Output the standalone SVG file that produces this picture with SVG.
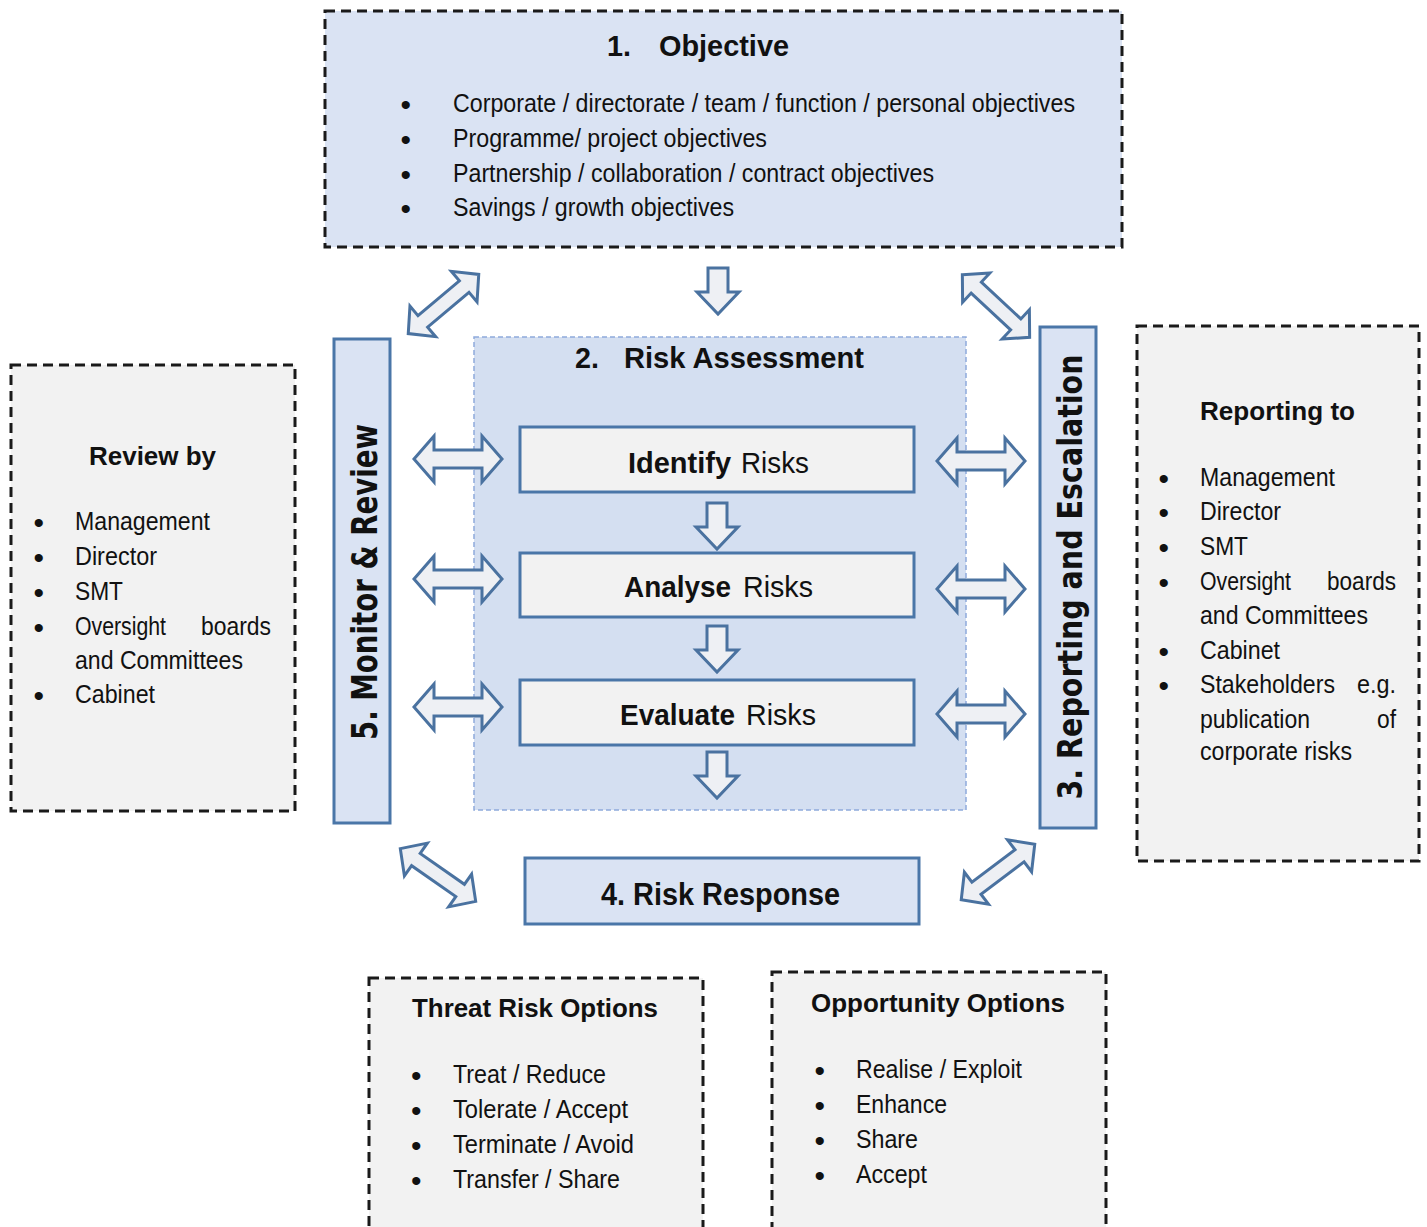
<svg xmlns="http://www.w3.org/2000/svg" xmlns:xlink="http://www.w3.org/1999/xlink" width="1427" height="1227" viewBox="0 0 1427 1227">
<style>
.dash{fill:#f2f2f2;stroke:#1a1a1a;stroke-width:3;stroke-dasharray:10 6}
.blue{fill:#dae3f3;stroke:#4a76a8;stroke-width:3}
.inner{fill:#f2f2f2;stroke:#4a76a8;stroke-width:3}
.arr{fill:#eef0f4;stroke:#4a72a0;stroke-width:3;stroke-linejoin:miter}
text{font-family:"Liberation Sans Narrow","Liberation Sans",Arial,sans-serif;fill:#111}
.t{font-size:25px}
.bu{font-size:30px}
.h30{font-size:30px;font-weight:bold}
.h26{font-size:26px;font-weight:bold}
.v{font-family:"DejaVu Sans",Verdana,sans-serif;font-weight:bold;text-anchor:middle}
</style>
<defs>
<path id="dh" d="M-44,0 L-24,-23 L-24,-9 L24,-9 L24,-23 L44,0 L24,23 L24,9 L-24,9 L-24,23 Z"/>
<path id="dd" d="M-46,0 L-27,-20 L-27,-7.5 L27,-7.5 L27,-20 L46,0 L27,20 L27,7.5 L-27,7.5 L-27,20 Z"/>
<path id="dn" d="M-10,0 L10,0 L10,24 L21,24 L0,46 L-21,24 L-10,24 Z"/>
</defs>
<rect width="1427" height="1227" fill="#ffffff"/>

<g id="objective">
<rect x="325" y="11" width="797" height="236" fill="#dae3f3" stroke="#1a1a1a" stroke-width="3" stroke-dasharray="10 6"/>
<text class="h30" x="607" y="56" textLength="24" lengthAdjust="spacingAndGlyphs">1.</text>
<text class="h30" x="659" y="56" textLength="130" lengthAdjust="spacingAndGlyphs">Objective</text>
<text class="bu" x="400.5" y="115">•</text>
<text class="t" x="453" y="112" textLength="622" lengthAdjust="spacingAndGlyphs">Corporate / directorate / team / function / personal objectives</text>
<text class="bu" x="400.5" y="150">•</text>
<text class="t" x="453" y="147" textLength="314" lengthAdjust="spacingAndGlyphs">Programme/ project objectives</text>
<text class="bu" x="400.5" y="185">•</text>
<text class="t" x="453" y="182" textLength="481" lengthAdjust="spacingAndGlyphs">Partnership / collaboration / contract objectives</text>
<text class="bu" x="400.5" y="219">•</text>
<text class="t" x="453" y="216" textLength="281" lengthAdjust="spacingAndGlyphs">Savings / growth objectives</text>
</g>

<g id="risk-assessment">
<rect x="474" y="337" width="492" height="473" fill="#d4dff1" stroke="#8faadc" stroke-width="1.5" stroke-dasharray="5 3"/>
<text x="575" y="368" font-size="29" font-weight="bold" textLength="24" lengthAdjust="spacingAndGlyphs">2.</text>
<text x="624" y="368" font-size="29" font-weight="bold" textLength="240" lengthAdjust="spacingAndGlyphs">Risk Assessment</text>
</g>

<g id="identify">
<rect class="inner" x="520" y="427" width="394" height="65"/>
<text x="628" y="473" font-size="30" font-weight="bold" textLength="103" lengthAdjust="spacingAndGlyphs">Identify</text>
<text x="741" y="473" font-size="30" textLength="68" lengthAdjust="spacingAndGlyphs">Risks</text>
</g>
<g id="analyse">
<rect class="inner" x="520" y="553" width="394" height="64"/>
<text x="624" y="597" font-size="30" font-weight="bold" textLength="107" lengthAdjust="spacingAndGlyphs">Analyse</text>
<text x="743" y="597" font-size="30" textLength="70" lengthAdjust="spacingAndGlyphs">Risks</text>
</g>
<g id="evaluate">
<rect class="inner" x="520" y="680" width="394" height="65"/>
<text x="620" y="725" font-size="30" font-weight="bold" textLength="115" lengthAdjust="spacingAndGlyphs">Evaluate</text>
<text x="746" y="725" font-size="30" textLength="70" lengthAdjust="spacingAndGlyphs">Risks</text>
</g>

<g id="monitor-review">
<rect class="blue" x="334" y="339" width="56" height="484"/>
<text class="v" transform="translate(377,582) rotate(-90)" font-size="36" textLength="316" lengthAdjust="spacingAndGlyphs">5. Monitor &amp; Review</text>
</g>

<g id="reporting-escalation">
<rect class="blue" x="1040" y="327" width="56" height="501"/>
<text class="v" transform="translate(1082,577) rotate(-90)" font-size="33" textLength="445" lengthAdjust="spacingAndGlyphs">3. Reporting and Escalation</text>
</g>

<g id="risk-response">
<rect class="blue" x="525" y="858" width="394" height="66"/>
<text x="601" y="905" font-size="32" font-weight="bold" textLength="239" lengthAdjust="spacingAndGlyphs">4. Risk Response</text>
</g>

<g id="review-by">
<rect class="dash" x="11" y="365" width="284" height="446"/>
<text class="h26" x="89" y="465" textLength="127" lengthAdjust="spacingAndGlyphs">Review by</text>
<text class="bu" x="33.5" y="533">•</text>
<text class="t" x="75" y="530" textLength="135" lengthAdjust="spacingAndGlyphs">Management</text>
<text class="bu" x="33.5" y="568">•</text>
<text class="t" x="75" y="565" textLength="82" lengthAdjust="spacingAndGlyphs">Director</text>
<text class="bu" x="33.5" y="603">•</text>
<text class="t" x="75" y="600" textLength="48" lengthAdjust="spacingAndGlyphs">SMT</text>
<text class="bu" x="33.5" y="638">•</text>
<text class="t" x="75" y="635" textLength="91" lengthAdjust="spacingAndGlyphs">Oversight</text>
<text class="t" x="201" y="635" textLength="70" lengthAdjust="spacingAndGlyphs">boards</text>
<text class="t" x="75" y="669" textLength="168" lengthAdjust="spacingAndGlyphs">and Committees</text>
<text class="bu" x="33.5" y="706">•</text>
<text class="t" x="75" y="703" textLength="80" lengthAdjust="spacingAndGlyphs">Cabinet</text>
</g>

<g id="reporting-to">
<rect class="dash" x="1137" y="326" width="282" height="535"/>
<text class="h26" x="1200" y="420" textLength="155" lengthAdjust="spacingAndGlyphs">Reporting to</text>
<text class="bu" x="1158.5" y="489">•</text>
<text class="t" x="1200" y="486" textLength="135" lengthAdjust="spacingAndGlyphs">Management</text>
<text class="bu" x="1158.5" y="523">•</text>
<text class="t" x="1200" y="520" textLength="81" lengthAdjust="spacingAndGlyphs">Director</text>
<text class="bu" x="1158.5" y="558">•</text>
<text class="t" x="1200" y="555" textLength="48" lengthAdjust="spacingAndGlyphs">SMT</text>
<text class="bu" x="1158.5" y="593">•</text>
<text class="t" x="1200" y="590" textLength="91" lengthAdjust="spacingAndGlyphs">Oversight</text>
<text class="t" x="1327" y="590" textLength="69" lengthAdjust="spacingAndGlyphs">boards</text>
<text class="t" x="1200" y="624" textLength="168" lengthAdjust="spacingAndGlyphs">and Committees</text>
<text class="bu" x="1158.5" y="662">•</text>
<text class="t" x="1200" y="659" textLength="80" lengthAdjust="spacingAndGlyphs">Cabinet</text>
<text class="bu" x="1158.5" y="696">•</text>
<text class="t" x="1200" y="693" textLength="135" lengthAdjust="spacingAndGlyphs">Stakeholders</text>
<text class="t" x="1357" y="693" textLength="39" lengthAdjust="spacingAndGlyphs">e.g.</text>
<text class="t" x="1200" y="728" textLength="110" lengthAdjust="spacingAndGlyphs">publication</text>
<text class="t" x="1377" y="728" textLength="19" lengthAdjust="spacingAndGlyphs">of</text>
<text class="t" x="1200" y="760" textLength="152" lengthAdjust="spacingAndGlyphs">corporate risks</text>
</g>

<g id="threat-options">
<rect class="dash" x="369" y="978" width="334" height="270"/>
<text class="h26" x="412" y="1017" textLength="246" lengthAdjust="spacingAndGlyphs">Threat Risk Options</text>
<text class="bu" x="411" y="1086">•</text>
<text class="t" x="453" y="1083" textLength="153" lengthAdjust="spacingAndGlyphs">Treat / Reduce</text>
<text class="bu" x="411" y="1121">•</text>
<text class="t" x="453" y="1118" textLength="175" lengthAdjust="spacingAndGlyphs">Tolerate / Accept</text>
<text class="bu" x="411" y="1156">•</text>
<text class="t" x="453" y="1153" textLength="181" lengthAdjust="spacingAndGlyphs">Terminate / Avoid</text>
<text class="bu" x="411" y="1191">•</text>
<text class="t" x="453" y="1188" textLength="167" lengthAdjust="spacingAndGlyphs">Transfer / Share</text>
</g>

<g id="opportunity-options">
<rect class="dash" x="772" y="972" width="334" height="276"/>
<text class="h26" x="811" y="1012" textLength="254" lengthAdjust="spacingAndGlyphs">Opportunity Options</text>
<text class="bu" x="814.5" y="1081">•</text>
<text class="t" x="856" y="1078" textLength="166" lengthAdjust="spacingAndGlyphs">Realise / Exploit</text>
<text class="bu" x="814.5" y="1116">•</text>
<text class="t" x="856" y="1113" textLength="91" lengthAdjust="spacingAndGlyphs">Enhance</text>
<text class="bu" x="814.5" y="1151">•</text>
<text class="t" x="856" y="1148" textLength="62" lengthAdjust="spacingAndGlyphs">Share</text>
<text class="bu" x="814.5" y="1186">•</text>
<text class="t" x="856" y="1183" textLength="71" lengthAdjust="spacingAndGlyphs">Accept</text>
</g>

<g id="connectors" class="arr">
<use href="#dn" transform="translate(718,268)"/>
<use href="#dn" transform="translate(717,503)"/>
<use href="#dn" transform="translate(717,626)"/>
<use href="#dn" transform="translate(717,752)"/>
<use href="#dd" transform="translate(443.5,304) rotate(-40)"/>
<use href="#dd" transform="translate(996,306) rotate(43)"/>
<use href="#dd" transform="translate(438,875) rotate(35)"/>
<use href="#dd" transform="translate(998,872) rotate(-37)"/>
<use href="#dh" transform="translate(458,459)"/>
<use href="#dh" transform="translate(458,579)"/>
<use href="#dh" transform="translate(458,707)"/>
<use href="#dh" transform="translate(981,461)"/>
<use href="#dh" transform="translate(981,589)"/>
<use href="#dh" transform="translate(981,714)"/>
</g>
</svg>
